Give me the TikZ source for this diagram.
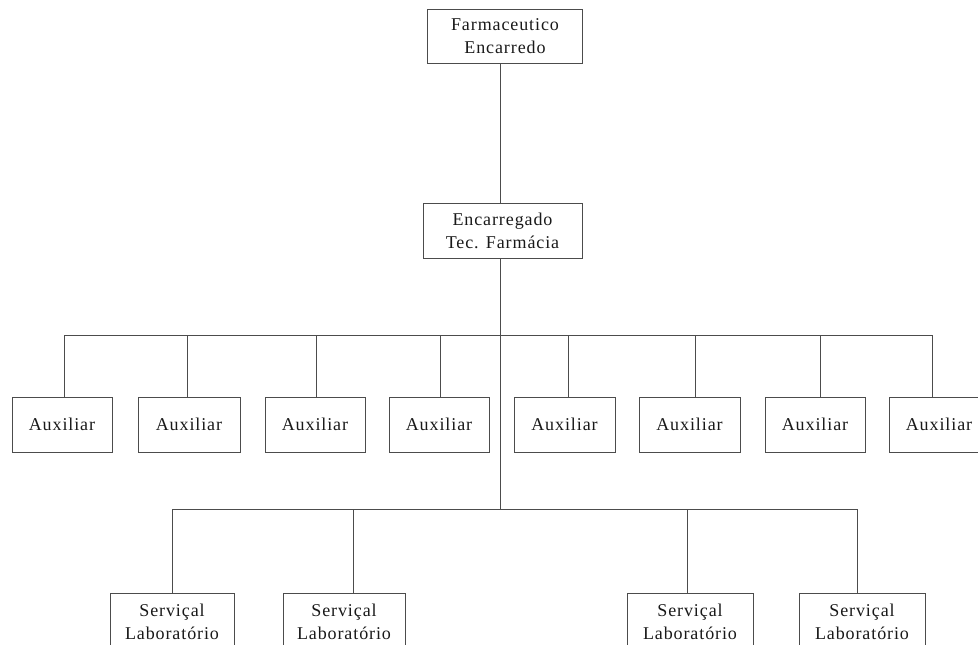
\documentclass[tikz,border=0pt]{standalone}
\usepackage{fontspec}
\setmainfont{Liberation Serif}[LetterSpace=5]
\begin{document}
\begin{tikzpicture}[x=1pt,y=-1pt,
  line/.style={draw=black!70,line width=0.8pt},
  box/.style={draw=black!70,line width=0.8pt,rectangle,inner sep=0pt,
    align=center,text=black!90,font=\fontsize{18}{23}\selectfont},
  auxbox/.style={box,minimum width=100pt,minimum height=55pt},
  labbox/.style={box,minimum width=124pt,minimum height=58pt}]
\useasboundingbox (0,0) rectangle (978,645);

% head of the chart
\node[box,minimum width=155pt,minimum height=54pt] (farm) at (505,36) {Farmaceutico\\Encarredo};
\node[box,minimum width=159pt,minimum height=55pt] (enc) at (502.5,230.5) {Encarregado\\Tec. Farmácia};

% assistants row
\node[auxbox] (a1) at (62,424.5) {Auxiliar};
\node[auxbox,minimum width=102pt] (a2) at (189,424.5) {Auxiliar};
\node[auxbox] (a3) at (315,424.5) {Auxiliar};
\node[auxbox] (a4) at (439,424.5) {Auxiliar};
\node[auxbox,minimum width=101pt] (a5) at (564.5,424.5) {Auxiliar};
\node[auxbox,minimum width=101pt] (a6) at (689.5,424.5) {Auxiliar};
\node[auxbox] (a7) at (815,424.5) {Auxiliar};
\node[auxbox] (a8) at (939,424.5) {Auxiliar};

% laboratory row
\node[labbox] (s1) at (172,622) {Serviçal\\Laboratório};
\node[labbox,minimum width=122pt] (s2) at (344,622) {Serviçal\\Laboratório};
\node[labbox,minimum width=126pt] (s3) at (690,622) {Serviçal\\Laboratório};
\node[labbox,minimum width=126pt] (s4) at (862,622) {Serviçal\\Laboratório};

% trunk and branch points
\coordinate (t) at (500,0);
\coordinate (bar1) at (500,335);
\coordinate (bar2) at (500,509);
\coordinate (d1) at (64,335);
\coordinate (d2) at (187,335);
\coordinate (d3) at (316,335);
\coordinate (d4) at (440,335);
\coordinate (d5) at (568,335);
\coordinate (d6) at (695,335);
\coordinate (d7) at (820,335);
\coordinate (d8) at (932,335);
\coordinate (e1) at (172,509);
\coordinate (e2) at (353,509);
\coordinate (e3) at (687,509);
\coordinate (e4) at (857,509);

\draw[line] (t |- farm.south) -- (t |- enc.north);
\draw[line] (t |- enc.south) -- (bar2);
\draw[line] (d1) -- (d8);
\draw[line] (e1) -- (e4);
\foreach \i in {1,...,8} \draw[line] (d\i) -- (d\i |- a\i.north);
\foreach \i in {1,...,4} \draw[line] (e\i) -- (e\i |- s\i.north);
\end{tikzpicture}
\end{document}
